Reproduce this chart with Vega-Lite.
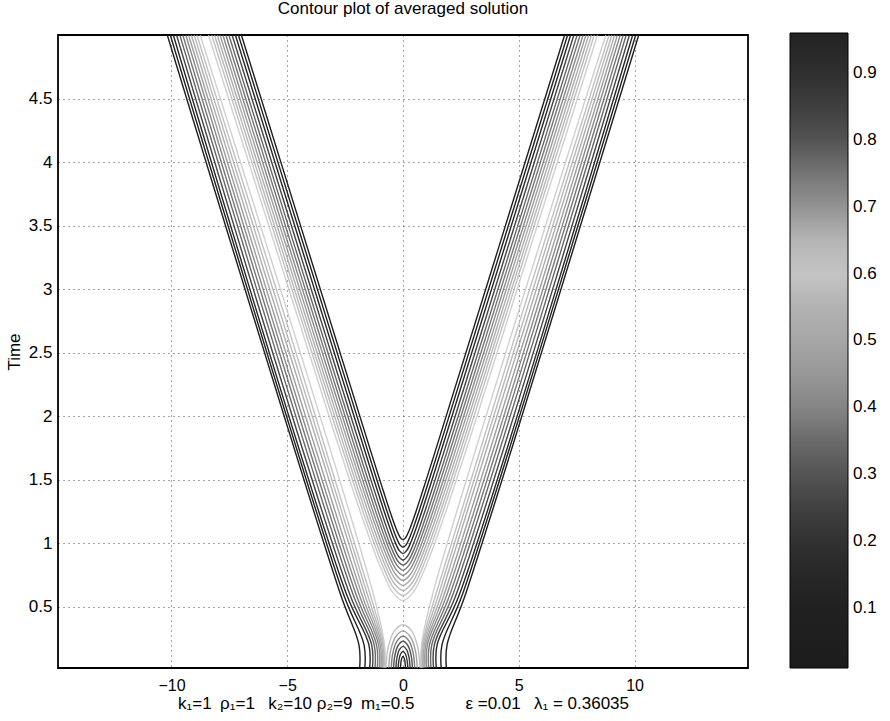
{
"$schema":"https://vega.github.io/schema/vega-lite/v6.json",
"autosize":{"type":"none"},
"padding":{"left":58,"top":35,"right":142,"bottom":53},
"width":690,"height":633,
"background":"white",
"title":{"text":"Contour plot of averaged solution","fontSize":17,"fontWeight":"normal","font":"Liberation Sans","color":"#000","offset":15},
"config":{"view":{"stroke":"#000","strokeWidth":1.8},"font":"Liberation Sans"},
"data":{"values":[
{"id":"L1","v":0.05,"i":0,"x":-1.88,"t":0},{"id":"L1","v":0.05,"i":1,"x":-1.90,"t":0.2},{"id":"L1","v":0.05,"i":2,"x":-2.70,"t":0.6},{"id":"L1","v":0.05,"i":3,"x":-10.18,"t":5},
{"id":"L2","v":0.10,"i":0,"x":-1.66,"t":0},{"id":"L2","v":0.10,"i":1,"x":-1.68,"t":0.2},{"id":"L2","v":0.10,"i":2,"x":-2.57,"t":0.6},{"id":"L2","v":0.10,"i":3,"x":-10.05,"t":5},
{"id":"L3","v":0.15,"i":0,"x":-1.45,"t":0},{"id":"L3","v":0.15,"i":1,"x":-1.47,"t":0.2},{"id":"L3","v":0.15,"i":2,"x":-2.44,"t":0.6},{"id":"L3","v":0.15,"i":3,"x":-9.92,"t":5},
{"id":"L4","v":0.20,"i":0,"x":-1.33,"t":0},{"id":"L4","v":0.20,"i":1,"x":-1.35,"t":0.2},{"id":"L4","v":0.20,"i":2,"x":-2.30,"t":0.6},{"id":"L4","v":0.20,"i":3,"x":-9.78,"t":5},
{"id":"L5","v":0.25,"i":0,"x":-1.22,"t":0},{"id":"L5","v":0.25,"i":1,"x":-1.24,"t":0.2},{"id":"L5","v":0.25,"i":2,"x":-2.16,"t":0.6},{"id":"L5","v":0.25,"i":3,"x":-9.64,"t":5},
{"id":"L6","v":0.30,"i":0,"x":-1.12,"t":0},{"id":"L6","v":0.30,"i":1,"x":-1.14,"t":0.2},{"id":"L6","v":0.30,"i":2,"x":-2.03,"t":0.6},{"id":"L6","v":0.30,"i":3,"x":-9.51,"t":5},
{"id":"L7","v":0.35,"i":0,"x":-1.03,"t":0},{"id":"L7","v":0.35,"i":1,"x":-1.05,"t":0.2},{"id":"L7","v":0.35,"i":2,"x":-1.90,"t":0.6},{"id":"L7","v":0.35,"i":3,"x":-9.38,"t":5},
{"id":"L8","v":0.40,"i":0,"x":-0.96,"t":0},{"id":"L8","v":0.40,"i":1,"x":-0.98,"t":0.2},{"id":"L8","v":0.40,"i":2,"x":-1.78,"t":0.6},{"id":"L8","v":0.40,"i":3,"x":-9.26,"t":5},
{"id":"L9","v":0.45,"i":0,"x":-0.90,"t":0},{"id":"L9","v":0.45,"i":1,"x":-0.92,"t":0.2},{"id":"L9","v":0.45,"i":2,"x":-1.66,"t":0.6},{"id":"L9","v":0.45,"i":3,"x":-9.14,"t":5},
{"id":"L10","v":0.50,"i":0,"x":-0.85,"t":0},{"id":"L10","v":0.50,"i":1,"x":-0.87,"t":0.2},{"id":"L10","v":0.50,"i":2,"x":-1.54,"t":0.6},{"id":"L10","v":0.50,"i":3,"x":-9.02,"t":5},
{"id":"L11","v":0.55,"i":0,"x":-0.81,"t":0},{"id":"L11","v":0.55,"i":1,"x":-0.83,"t":0.2},{"id":"L11","v":0.55,"i":2,"x":-1.42,"t":0.6},{"id":"L11","v":0.55,"i":3,"x":-8.90,"t":5},
{"id":"L12","v":0.60,"i":0,"x":-0.78,"t":0},{"id":"L12","v":0.60,"i":1,"x":-0.80,"t":0.2},{"id":"L12","v":0.60,"i":2,"x":-1.28,"t":0.6},{"id":"L12","v":0.60,"i":3,"x":-8.76,"t":5},
{"id":"R1","v":0.05,"i":0,"x":1.88,"t":0},{"id":"R1","v":0.05,"i":1,"x":1.90,"t":0.2},{"id":"R1","v":0.05,"i":2,"x":2.70,"t":0.6},{"id":"R1","v":0.05,"i":3,"x":10.18,"t":5},
{"id":"R2","v":0.10,"i":0,"x":1.66,"t":0},{"id":"R2","v":0.10,"i":1,"x":1.68,"t":0.2},{"id":"R2","v":0.10,"i":2,"x":2.57,"t":0.6},{"id":"R2","v":0.10,"i":3,"x":10.05,"t":5},
{"id":"R3","v":0.15,"i":0,"x":1.45,"t":0},{"id":"R3","v":0.15,"i":1,"x":1.47,"t":0.2},{"id":"R3","v":0.15,"i":2,"x":2.44,"t":0.6},{"id":"R3","v":0.15,"i":3,"x":9.92,"t":5},
{"id":"R4","v":0.20,"i":0,"x":1.33,"t":0},{"id":"R4","v":0.20,"i":1,"x":1.35,"t":0.2},{"id":"R4","v":0.20,"i":2,"x":2.30,"t":0.6},{"id":"R4","v":0.20,"i":3,"x":9.78,"t":5},
{"id":"R5","v":0.25,"i":0,"x":1.22,"t":0},{"id":"R5","v":0.25,"i":1,"x":1.24,"t":0.2},{"id":"R5","v":0.25,"i":2,"x":2.16,"t":0.6},{"id":"R5","v":0.25,"i":3,"x":9.64,"t":5},
{"id":"R6","v":0.30,"i":0,"x":1.12,"t":0},{"id":"R6","v":0.30,"i":1,"x":1.14,"t":0.2},{"id":"R6","v":0.30,"i":2,"x":2.03,"t":0.6},{"id":"R6","v":0.30,"i":3,"x":9.51,"t":5},
{"id":"R7","v":0.35,"i":0,"x":1.03,"t":0},{"id":"R7","v":0.35,"i":1,"x":1.05,"t":0.2},{"id":"R7","v":0.35,"i":2,"x":1.90,"t":0.6},{"id":"R7","v":0.35,"i":3,"x":9.38,"t":5},
{"id":"R8","v":0.40,"i":0,"x":0.96,"t":0},{"id":"R8","v":0.40,"i":1,"x":0.98,"t":0.2},{"id":"R8","v":0.40,"i":2,"x":1.78,"t":0.6},{"id":"R8","v":0.40,"i":3,"x":9.26,"t":5},
{"id":"R9","v":0.45,"i":0,"x":0.90,"t":0},{"id":"R9","v":0.45,"i":1,"x":0.92,"t":0.2},{"id":"R9","v":0.45,"i":2,"x":1.66,"t":0.6},{"id":"R9","v":0.45,"i":3,"x":9.14,"t":5},
{"id":"R10","v":0.50,"i":0,"x":0.85,"t":0},{"id":"R10","v":0.50,"i":1,"x":0.87,"t":0.2},{"id":"R10","v":0.50,"i":2,"x":1.54,"t":0.6},{"id":"R10","v":0.50,"i":3,"x":9.02,"t":5},
{"id":"R11","v":0.55,"i":0,"x":0.81,"t":0},{"id":"R11","v":0.55,"i":1,"x":0.83,"t":0.2},{"id":"R11","v":0.55,"i":2,"x":1.42,"t":0.6},{"id":"R11","v":0.55,"i":3,"x":8.90,"t":5},
{"id":"R12","v":0.60,"i":0,"x":0.78,"t":0},{"id":"R12","v":0.60,"i":1,"x":0.80,"t":0.2},{"id":"R12","v":0.60,"i":2,"x":1.28,"t":0.6},{"id":"R12","v":0.60,"i":3,"x":8.76,"t":5},
{"id":"U1","v":0.05,"i":0,"x":-6.98,"t":5},{"id":"U1","v":0.05,"i":1,"x":-1.398,"t":1.728},{"id":"U1","v":0.05,"i":2,"x":-0.838,"t":1.406},{"id":"U1","v":0.05,"i":3,"x":-0.492,"t":1.214},{"id":"U1","v":0.05,"i":4,"x":-0.271,"t":1.104},{"id":"U1","v":0.05,"i":5,"x":-0.12,"t":1.047},{"id":"U1","v":0.05,"i":6,"x":0,"t":1.03},{"id":"U1","v":0.05,"i":7,"x":0.12,"t":1.047},{"id":"U1","v":0.05,"i":8,"x":0.271,"t":1.104},{"id":"U1","v":0.05,"i":9,"x":0.492,"t":1.214},{"id":"U1","v":0.05,"i":10,"x":0.838,"t":1.406},{"id":"U1","v":0.05,"i":11,"x":1.398,"t":1.728},{"id":"U1","v":0.05,"i":12,"x":6.98,"t":5},
{"id":"U2","v":0.10,"i":0,"x":-7.109,"t":5},{"id":"U2","v":0.10,"i":1,"x":-1.561,"t":1.75},{"id":"U2","v":0.10,"i":2,"x":-0.936,"t":1.39},{"id":"U2","v":0.10,"i":3,"x":-0.549,"t":1.176},{"id":"U2","v":0.10,"i":4,"x":-0.303,"t":1.053},{"id":"U2","v":0.10,"i":5,"x":-0.134,"t":0.989},{"id":"U2","v":0.10,"i":6,"x":0,"t":0.97},{"id":"U2","v":0.10,"i":7,"x":0.134,"t":0.989},{"id":"U2","v":0.10,"i":8,"x":0.303,"t":1.053},{"id":"U2","v":0.10,"i":9,"x":0.549,"t":1.176},{"id":"U2","v":0.10,"i":10,"x":0.936,"t":1.39},{"id":"U2","v":0.10,"i":11,"x":1.561,"t":1.75},{"id":"U2","v":0.10,"i":12,"x":7.109,"t":5},
{"id":"U3","v":0.15,"i":0,"x":-7.24,"t":5},{"id":"U3","v":0.15,"i":1,"x":-1.839,"t":1.839},{"id":"U3","v":0.15,"i":2,"x":-1.103,"t":1.414},{"id":"U3","v":0.15,"i":3,"x":-0.647,"t":1.162},{"id":"U3","v":0.15,"i":4,"x":-0.357,"t":1.017},{"id":"U3","v":0.15,"i":5,"x":-0.158,"t":0.943},{"id":"U3","v":0.15,"i":6,"x":0,"t":0.92},{"id":"U3","v":0.15,"i":7,"x":0.158,"t":0.943},{"id":"U3","v":0.15,"i":8,"x":0.357,"t":1.017},{"id":"U3","v":0.15,"i":9,"x":0.647,"t":1.162},{"id":"U3","v":0.15,"i":10,"x":1.103,"t":1.414},{"id":"U3","v":0.15,"i":11,"x":1.839,"t":1.839},{"id":"U3","v":0.15,"i":12,"x":7.24,"t":5},
{"id":"U4","v":0.20,"i":0,"x":-7.38,"t":5},{"id":"U4","v":0.20,"i":1,"x":-2.172,"t":1.953},{"id":"U4","v":0.20,"i":2,"x":-1.302,"t":1.453},{"id":"U4","v":0.20,"i":3,"x":-0.764,"t":1.155},{"id":"U4","v":0.20,"i":4,"x":-0.422,"t":0.985},{"id":"U4","v":0.20,"i":5,"x":-0.187,"t":0.897},{"id":"U4","v":0.20,"i":6,"x":0,"t":0.87},{"id":"U4","v":0.20,"i":7,"x":0.187,"t":0.897},{"id":"U4","v":0.20,"i":8,"x":0.422,"t":0.985},{"id":"U4","v":0.20,"i":9,"x":0.764,"t":1.155},{"id":"U4","v":0.20,"i":10,"x":1.302,"t":1.453},{"id":"U4","v":0.20,"i":11,"x":2.172,"t":1.953},{"id":"U4","v":0.20,"i":12,"x":7.38,"t":5},
{"id":"U5","v":0.25,"i":0,"x":-7.521,"t":5},{"id":"U5","v":0.25,"i":1,"x":-2.614,"t":2.134},{"id":"U5","v":0.25,"i":2,"x":-1.567,"t":1.532},{"id":"U5","v":0.25,"i":3,"x":-0.92,"t":1.174},{"id":"U5","v":0.25,"i":4,"x":-0.508,"t":0.968},{"id":"U5","v":0.25,"i":5,"x":-0.225,"t":0.862},{"id":"U5","v":0.25,"i":6,"x":0,"t":0.83},{"id":"U5","v":0.25,"i":7,"x":0.225,"t":0.862},{"id":"U5","v":0.25,"i":8,"x":0.508,"t":0.968},{"id":"U5","v":0.25,"i":9,"x":0.92,"t":1.174},{"id":"U5","v":0.25,"i":10,"x":1.567,"t":1.532},{"id":"U5","v":0.25,"i":11,"x":2.614,"t":2.134},{"id":"U5","v":0.25,"i":12,"x":7.521,"t":5},
{"id":"U6","v":0.30,"i":0,"x":-7.65,"t":5},{"id":"U6","v":0.30,"i":1,"x":-2.983,"t":2.278},{"id":"U6","v":0.30,"i":2,"x":-1.788,"t":1.591},{"id":"U6","v":0.30,"i":3,"x":-1.05,"t":1.182},{"id":"U6","v":0.30,"i":4,"x":-0.579,"t":0.947},{"id":"U6","v":0.30,"i":5,"x":-0.257,"t":0.827},{"id":"U6","v":0.30,"i":6,"x":0,"t":0.79},{"id":"U6","v":0.30,"i":7,"x":0.257,"t":0.827},{"id":"U6","v":0.30,"i":8,"x":0.579,"t":0.947},{"id":"U6","v":0.30,"i":9,"x":1.05,"t":1.182},{"id":"U6","v":0.30,"i":10,"x":1.788,"t":1.591},{"id":"U6","v":0.30,"i":11,"x":2.983,"t":2.278},{"id":"U6","v":0.30,"i":12,"x":7.65,"t":5},
{"id":"U7","v":0.35,"i":0,"x":-7.779,"t":5},{"id":"U7","v":0.35,"i":1,"x":-3.352,"t":2.423},{"id":"U7","v":0.35,"i":2,"x":-2.009,"t":1.65},{"id":"U7","v":0.35,"i":3,"x":-1.18,"t":1.191},{"id":"U7","v":0.35,"i":4,"x":-0.651,"t":0.927},{"id":"U7","v":0.35,"i":5,"x":-0.289,"t":0.792},{"id":"U7","v":0.35,"i":6,"x":0,"t":0.75},{"id":"U7","v":0.35,"i":7,"x":0.289,"t":0.792},{"id":"U7","v":0.35,"i":8,"x":0.651,"t":0.927},{"id":"U7","v":0.35,"i":9,"x":1.18,"t":1.191},{"id":"U7","v":0.35,"i":10,"x":2.009,"t":1.65},{"id":"U7","v":0.35,"i":11,"x":3.352,"t":2.423},{"id":"U7","v":0.35,"i":12,"x":7.779,"t":5},
{"id":"U8","v":0.40,"i":0,"x":-7.9,"t":5},{"id":"U8","v":0.40,"i":1,"x":-3.672,"t":2.542},{"id":"U8","v":0.40,"i":2,"x":-2.202,"t":1.696},{"id":"U8","v":0.40,"i":3,"x":-1.292,"t":1.193},{"id":"U8","v":0.40,"i":4,"x":-0.713,"t":0.904},{"id":"U8","v":0.40,"i":5,"x":-0.316,"t":0.756},{"id":"U8","v":0.40,"i":6,"x":0,"t":0.71},{"id":"U8","v":0.40,"i":7,"x":0.316,"t":0.756},{"id":"U8","v":0.40,"i":8,"x":0.713,"t":0.904},{"id":"U8","v":0.40,"i":9,"x":1.292,"t":1.193},{"id":"U8","v":0.40,"i":10,"x":2.202,"t":1.696},{"id":"U8","v":0.40,"i":11,"x":3.672,"t":2.542},{"id":"U8","v":0.40,"i":12,"x":7.9,"t":5},
{"id":"U9","v":0.45,"i":0,"x":-8.021,"t":5},{"id":"U9","v":0.45,"i":1,"x":-3.993,"t":2.661},{"id":"U9","v":0.45,"i":2,"x":-2.394,"t":1.742},{"id":"U9","v":0.45,"i":3,"x":-1.405,"t":1.195},{"id":"U9","v":0.45,"i":4,"x":-0.776,"t":0.881},{"id":"U9","v":0.45,"i":5,"x":-0.344,"t":0.72},{"id":"U9","v":0.45,"i":6,"x":0,"t":0.67},{"id":"U9","v":0.45,"i":7,"x":0.344,"t":0.72},{"id":"U9","v":0.45,"i":8,"x":0.776,"t":0.881},{"id":"U9","v":0.45,"i":9,"x":1.405,"t":1.195},{"id":"U9","v":0.45,"i":10,"x":2.394,"t":1.742},{"id":"U9","v":0.45,"i":11,"x":3.993,"t":2.661},{"id":"U9","v":0.45,"i":12,"x":8.021,"t":5},
{"id":"U10","v":0.50,"i":0,"x":-8.14,"t":5},{"id":"U10","v":0.50,"i":1,"x":-4.302,"t":2.775},{"id":"U10","v":0.50,"i":2,"x":-2.579,"t":1.785},{"id":"U10","v":0.50,"i":3,"x":-1.514,"t":1.195},{"id":"U10","v":0.50,"i":4,"x":-0.836,"t":0.857},{"id":"U10","v":0.50,"i":5,"x":-0.37,"t":0.683},{"id":"U10","v":0.50,"i":6,"x":0,"t":0.63},{"id":"U10","v":0.50,"i":7,"x":0.37,"t":0.683},{"id":"U10","v":0.50,"i":8,"x":0.836,"t":0.857},{"id":"U10","v":0.50,"i":9,"x":1.514,"t":1.195},{"id":"U10","v":0.50,"i":10,"x":2.579,"t":1.785},{"id":"U10","v":0.50,"i":11,"x":4.302,"t":2.775},{"id":"U10","v":0.50,"i":12,"x":8.14,"t":5},
{"id":"U11","v":0.55,"i":0,"x":-8.26,"t":5},{"id":"U11","v":0.55,"i":1,"x":-4.616,"t":2.894},{"id":"U11","v":0.55,"i":2,"x":-2.767,"t":1.83},{"id":"U11","v":0.55,"i":3,"x":-1.625,"t":1.197},{"id":"U11","v":0.55,"i":4,"x":-0.897,"t":0.834},{"id":"U11","v":0.55,"i":5,"x":-0.398,"t":0.647},{"id":"U11","v":0.55,"i":6,"x":0,"t":0.59},{"id":"U11","v":0.55,"i":7,"x":0.398,"t":0.647},{"id":"U11","v":0.55,"i":8,"x":0.897,"t":0.834},{"id":"U11","v":0.55,"i":9,"x":1.625,"t":1.197},{"id":"U11","v":0.55,"i":10,"x":2.767,"t":1.83},{"id":"U11","v":0.55,"i":11,"x":4.616,"t":2.894},{"id":"U11","v":0.55,"i":12,"x":8.26,"t":5},
{"id":"U12","v":0.60,"i":0,"x":-8.4,"t":5},{"id":"U12","v":0.60,"i":1,"x":-5.052,"t":3.07},{"id":"U12","v":0.60,"i":2,"x":-3.028,"t":1.906},{"id":"U12","v":0.60,"i":3,"x":-1.778,"t":1.214},{"id":"U12","v":0.60,"i":4,"x":-0.981,"t":0.817},{"id":"U12","v":0.60,"i":5,"x":-0.435,"t":0.613},{"id":"U12","v":0.60,"i":6,"x":0,"t":0.55},{"id":"U12","v":0.60,"i":7,"x":0.435,"t":0.613},{"id":"U12","v":0.60,"i":8,"x":0.981,"t":0.817},{"id":"U12","v":0.60,"i":9,"x":1.778,"t":1.214},{"id":"U12","v":0.60,"i":10,"x":3.028,"t":1.906},{"id":"U12","v":0.60,"i":11,"x":5.052,"t":3.07},{"id":"U12","v":0.60,"i":12,"x":8.4,"t":5},
{"id":"A1","v":0.65,"i":0,"x":-0.74,"t":0},{"id":"A1","v":0.65,"i":1,"x":-0.641,"t":0.18},{"id":"A1","v":0.65,"i":2,"x":-0.37,"t":0.312},{"id":"A1","v":0.65,"i":3,"x":0,"t":0.36},{"id":"A1","v":0.65,"i":4,"x":0.37,"t":0.312},{"id":"A1","v":0.65,"i":5,"x":0.641,"t":0.18},{"id":"A1","v":0.65,"i":6,"x":0.74,"t":0},
{"id":"A2","v":0.70,"i":0,"x":-0.62,"t":0},{"id":"A2","v":0.70,"i":1,"x":-0.537,"t":0.155},{"id":"A2","v":0.70,"i":2,"x":-0.31,"t":0.268},{"id":"A2","v":0.70,"i":3,"x":0,"t":0.31},{"id":"A2","v":0.70,"i":4,"x":0.31,"t":0.268},{"id":"A2","v":0.70,"i":5,"x":0.537,"t":0.155},{"id":"A2","v":0.70,"i":6,"x":0.62,"t":0},
{"id":"A3","v":0.75,"i":0,"x":-0.51,"t":0},{"id":"A3","v":0.75,"i":1,"x":-0.442,"t":0.135},{"id":"A3","v":0.75,"i":2,"x":-0.255,"t":0.234},{"id":"A3","v":0.75,"i":3,"x":0,"t":0.27},{"id":"A3","v":0.75,"i":4,"x":0.255,"t":0.234},{"id":"A3","v":0.75,"i":5,"x":0.442,"t":0.135},{"id":"A3","v":0.75,"i":6,"x":0.51,"t":0},
{"id":"A4","v":0.80,"i":0,"x":-0.41,"t":0},{"id":"A4","v":0.80,"i":1,"x":-0.355,"t":0.115},{"id":"A4","v":0.80,"i":2,"x":-0.205,"t":0.199},{"id":"A4","v":0.80,"i":3,"x":0,"t":0.23},{"id":"A4","v":0.80,"i":4,"x":0.205,"t":0.199},{"id":"A4","v":0.80,"i":5,"x":0.355,"t":0.115},{"id":"A4","v":0.80,"i":6,"x":0.41,"t":0},
{"id":"A5","v":0.85,"i":0,"x":-0.31,"t":0},{"id":"A5","v":0.85,"i":1,"x":-0.268,"t":0.095},{"id":"A5","v":0.85,"i":2,"x":-0.155,"t":0.165},{"id":"A5","v":0.85,"i":3,"x":0,"t":0.19},{"id":"A5","v":0.85,"i":4,"x":0.155,"t":0.165},{"id":"A5","v":0.85,"i":5,"x":0.268,"t":0.095},{"id":"A5","v":0.85,"i":6,"x":0.31,"t":0},
{"id":"A6","v":0.90,"i":0,"x":-0.21,"t":0},{"id":"A6","v":0.90,"i":1,"x":-0.182,"t":0.075},{"id":"A6","v":0.90,"i":2,"x":-0.105,"t":0.13},{"id":"A6","v":0.90,"i":3,"x":0,"t":0.15},{"id":"A6","v":0.90,"i":4,"x":0.105,"t":0.13},{"id":"A6","v":0.90,"i":5,"x":0.182,"t":0.075},{"id":"A6","v":0.90,"i":6,"x":0.21,"t":0},
{"id":"A7","v":0.95,"i":0,"x":-0.11,"t":0},{"id":"A7","v":0.95,"i":1,"x":-0.095,"t":0.055},{"id":"A7","v":0.95,"i":2,"x":-0.055,"t":0.095},{"id":"A7","v":0.95,"i":3,"x":0,"t":0.11},{"id":"A7","v":0.95,"i":4,"x":0.055,"t":0.095},{"id":"A7","v":0.95,"i":5,"x":0.095,"t":0.055},{"id":"A7","v":0.95,"i":6,"x":0.11,"t":0}
]},
"mark":{"type":"line","clip":true,"strokeWidth":1.4,"interpolate":"catmull-rom"},
"encoding":{
"x":{"field":"x","type":"quantitative","scale":{"domain":[-14.9,14.9],"nice":false,"zero":false},
"axis":{"values":[-10,-5,0,5,10],"grid":true,"gridColor":"#000","gridDash":[1,4],"gridOpacity":0.7,"ticks":false,"domain":false,"labelFont":"Liberation Sans","labelFontSize":16,"labelColor":"#000","labelPadding":9,
"title":"k₁=1\u2002ρ₁=1\u2002 k₂=10 ρ₂=9\u2002m₁=0.5\u2002\u2002\u2002\u2002\u2002\u2002ε =0.01\u2002 λ₁ = 0.36035","titleFont":"Liberation Sans","titleFontSize":17,"titleFontWeight":"normal","titleColor":"#000","titlePadding":2}},
"y":{"field":"t","type":"quantitative","scale":{"domain":[0.02,5],"nice":false,"zero":false},
"axis":{"values":[0.5,1,1.5,2,2.5,3,3.5,4,4.5],"format":"~g","grid":true,"gridColor":"#000","gridDash":[1,4],"gridOpacity":0.7,"ticks":false,"domain":false,"labelFont":"Liberation Sans","labelFontSize":17,"labelColor":"#000","labelPadding":6,
"title":"Time","titleFont":"Liberation Sans","titleFontSize":17,"titleFontWeight":"normal","titleColor":"#000","titlePadding":5}},
"detail":{"field":"id","type":"nominal"},
"order":{"field":"i","type":"quantitative"},
"opacity":{"field":"v","type":"quantitative","scale":{"domain":[0.05,0.15,0.25,0.6,0.7,0.8,0.95],"range":[1,1,0.8,0.8,0.85,1,1]},"legend":null},
"color":{"field":"v","type":"quantitative",
"scale":{"domain":[0.01,0.96],"range":["#1c1c1c","#1e1e1e","#222222","#282828","#333333","#444444","#585858","#707070","#8a8a8a","#9c9c9c","#a8a8a8","#b4b4b4","#c8c8c8","#b0b0b0","#8c8c8c","#6e6e6e","#4c4c4c","#3a3a3a","#2c2c2c","#222222"],"clamp":true},
"legend":{"title":null,"orient":"none","legendX":732,"legendY":-2,"direction":"vertical","gradientLength":635,"gradientThickness":58,"gradientStrokeColor":"#000","gradientStrokeWidth":1,"values":[0.1,0.2,0.3,0.4,0.5,0.6,0.7,0.8,0.9],"labelFont":"Liberation Sans","labelFontSize":17,"labelColor":"#000","labelOffset":5,"labelOverlap":false}}
}
}
